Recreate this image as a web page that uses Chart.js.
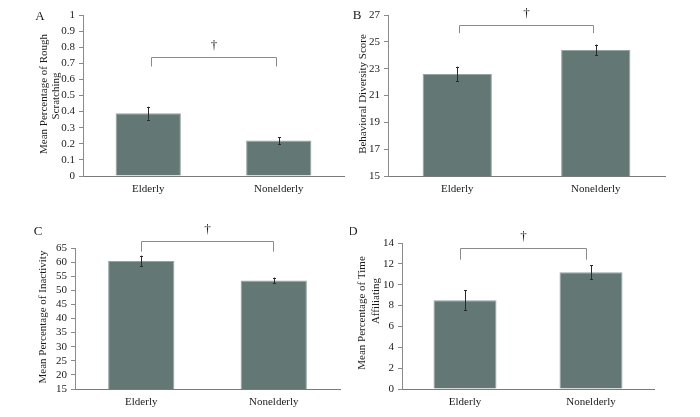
<!DOCTYPE html>
<html><head><meta charset="utf-8">
<script src="https://cdn.jsdelivr.net/npm/chart.js@4.4.1/dist/chart.umd.min.js"></script>
<style>
html,body{margin:0;padding:0;background:#fff;width:700px;height:417px;overflow:hidden}
canvas{position:absolute}
</style></head><body>
<canvas id="cA" width="350" height="200" style="left:0;top:0"></canvas>
<canvas id="cB" width="350" height="200" style="left:350px;top:0"></canvas>
<canvas id="cC" width="350" height="217" style="left:0;top:200px"></canvas>
<canvas id="cD" width="350" height="217" style="left:350px;top:200px"></canvas>
<script>
// ---- data ----
const categories = ['Elderly', 'Nonelderly'];
const roughScratchMeans = [0.39, 0.22];
const roughScratchErrors = [0.04, 0.022];
const diversityMeans = [22.6, 24.4];
const diversityErrors = [0.55, 0.4];
const inactivityMeans = [60.4, 53.5];
const inactivityErrors = [1.9, 1.0];
const affiliatingMeans = [8.5, 11.2];
const affiliatingErrors = [0.95, 0.65];
const significanceMark = '\u2020';

// ---- panel settings ----
const panels = [
  {id:'cA', letter:'A', box:{left:0, top:0, w:350, h:200}, plot:{left:83, top:15, right:344, bottom:176},
   means:roughScratchMeans, errs:roughScratchErrors, min:0, max:1, step:0.1,
   title:[{text:'Mean Percentage of Rough', x:44, y:94}, {text:'Scratching', x:56, y:96}],
   letterPos:{x:40, y:17}, bracket:{y:0.74, leg:0.68, dx1:3, dx2:-3}},
  {id:'cB', letter:'B', box:{left:350, top:0, w:350, h:200}, plot:{left:388, top:15, right:665, bottom:176},
   means:diversityMeans, errs:diversityErrors, min:15, max:27, step:2,
   title:[{text:'Behavioral Diversity Score', x:363, y:94}],
   letterPos:{x:357, y:16}, bracket:{y:26.25, leg:25.65, dx1:2, dx2:-3}},
  {id:'cC', letter:'C', box:{left:0, top:200, w:350, h:217}, plot:{left:75, top:248, right:340, bottom:389},
   means:inactivityMeans, errs:inactivityErrors, min:15, max:65, step:5,
   title:[{text:'Mean Percentage of Inactivity', x:43, y:317}],
   letterPos:{x:38, y:232}, bracket:{y:67.6, leg:63.7, dx1:0, dx2:-1}},
  {id:'cD', letter:'D', box:{left:350, top:200, w:350, h:217}, plot:{left:402, top:243, right:654, bottom:389},
   means:affiliatingMeans, errs:affiliatingErrors, min:0, max:14, step:2,
   title:[{text:'Mean Percentage of Time', x:362, y:313}, {text:'Affiliating', x:376.5, y:301}],
   letterPos:{x:353, y:232}, bracket:{y:13.5, leg:12.4, dx1:-5, dx2:-5}}
];

const FONT = "'Liberation Serif', 'Times New Roman', serif";
const TEXT = '#1a1a1a';

const annot = {
  id: 'annot',
  afterDraw(chart, args, opts) {
    const p = opts.panel;
    const ctx = chart.ctx;
    const xs = chart.scales.x, ys = chart.scales.y;
    const ox = p.box.left, oy = p.box.top;
    ctx.save();
    // error bars
    ctx.strokeStyle = '#2a2a2a';
    ctx.lineWidth = 1;
    p.means.forEach((m, i) => {
      const x = Math.round(xs.getPixelForValue(i)) + 0.5;
      const yt = ys.getPixelForValue(m + p.errs[i]);
      const yb = ys.getPixelForValue(m - p.errs[i]);
      ctx.beginPath();
      ctx.moveTo(x, yt); ctx.lineTo(x, yb);
      ctx.moveTo(x - 1.5, Math.round(yt) + 0.5); ctx.lineTo(x + 1.5, Math.round(yt) + 0.5);
      ctx.moveTo(x - 1.5, Math.round(yb) + 0.5); ctx.lineTo(x + 1.5, Math.round(yb) + 0.5);
      ctx.stroke();
    });
    // bracket
    const b = p.bracket;
    const x1 = Math.round(xs.getPixelForValue(0) + b.dx1) + 0.5;
    const x2 = Math.round(xs.getPixelForValue(1) + b.dx2) + 0.5;
    const by = Math.round(ys.getPixelForValue(b.y)) + 0.5;
    const ly = ys.getPixelForValue(b.leg);
    ctx.strokeStyle = '#8a8a8a';
    ctx.beginPath();
    ctx.moveTo(x1, ly); ctx.lineTo(x1, by); ctx.lineTo(x2, by); ctx.lineTo(x2, ly);
    ctx.stroke();
    ctx.fillStyle = TEXT;
    ctx.textAlign = 'center';
    ctx.textBaseline = 'middle';
    ctx.font = '13px ' + FONT;
    ctx.fillText(significanceMark, (x1 + x2) / 2, by - 12);
    // panel letter
    ctx.font = '13px ' + FONT;
    ctx.fillText(p.letter, p.letterPos.x - ox, p.letterPos.y - oy);
    // y titles
    ctx.font = '11px ' + FONT;
    p.title.forEach(t => {
      ctx.save();
      ctx.translate(t.x - ox, t.y - oy);
      ctx.rotate(-Math.PI / 2);
      ctx.fillText(t.text, 0, 0);
      ctx.restore();
    });
    ctx.restore();
  }
};

panels.forEach(p => {
  const yWidth = p.plot.left - p.box.left;
  const xHeight = p.box.top + p.box.h - p.plot.bottom;
  new Chart(document.getElementById(p.id), {
    type: 'bar',
    data: {
      labels: categories,
      datasets: [{
        data: p.means,
        backgroundColor: '#637775',
        borderColor: '#93a4a3',
        borderWidth: 1,
        categoryPercentage: 1,
        barPercentage: 0.5
      }]
    },
    plugins: [annot],
    options: {
      responsive: false,
      animation: false,
      layout: {padding: {left: 0, bottom: 0, top: p.plot.top - p.box.top, right: p.box.left + p.box.w - p.plot.right}},
      plugins: {legend: {display: false}, tooltip: {enabled: false}, annot: {panel: p}},
      scales: {
        x: {
          grid: {display: false, drawTicks: false},
          border: {display: true, color: '#7a7a7a', width: 1},
          ticks: {font: {family: FONT, size: 11}, color: TEXT, padding: 7, maxRotation: 0, autoSkip: false},
          afterFit(s) { s.height = xHeight; }
        },
        y: {
          min: p.min, max: p.max,
          grid: {display: true, drawOnChartArea: false, drawTicks: true, tickLength: 4, color: '#8a8a8a'},
          border: {display: true, color: '#8a8a8a', width: 1},
          ticks: {stepSize: p.step, autoSkip: false, font: {family: FONT, size: 11}, color: TEXT, padding: 4,
                  callback: v => String(Math.round(v * 100) / 100)},
          afterFit(s) { s.width = yWidth; }
        }
      }
    }
  });
});
</script>
</body></html>
